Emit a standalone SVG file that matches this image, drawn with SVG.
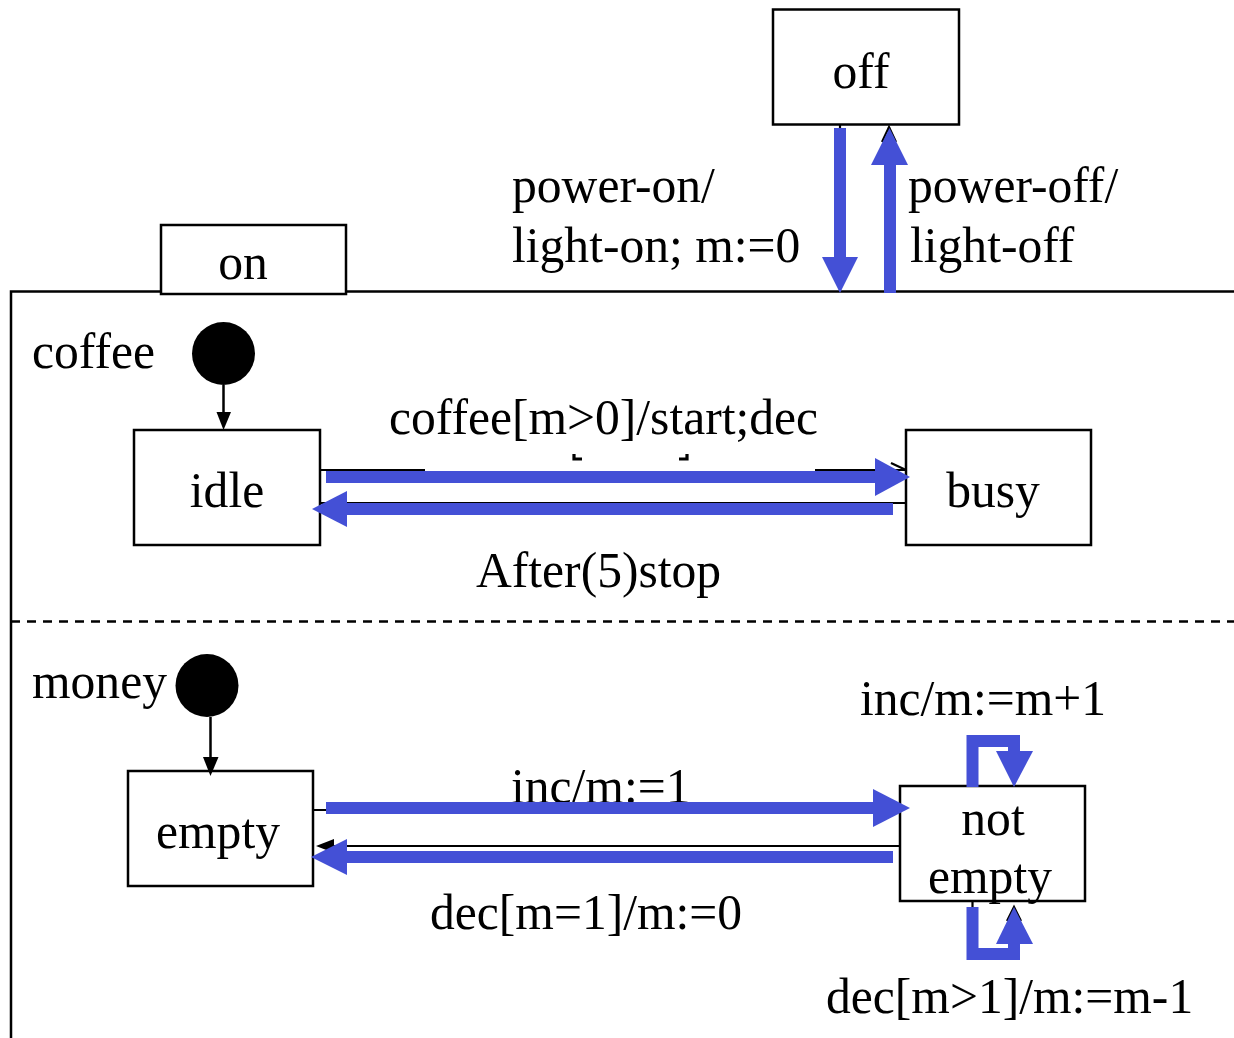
<svg xmlns="http://www.w3.org/2000/svg" width="1234" height="1038" viewBox="0 0 1234 1038">
  <style>
    .state { fill: #ffffff; stroke: #000000; stroke-width: 2.5; }
    .lbl { font-family: "Liberation Serif", "Times New Roman", serif; font-size: 49.6px; fill: #000000; }
    .mid { text-anchor: middle; }
    .thin { fill: none; stroke: #000000; stroke-width: 2.2; }
    .tick { fill: none; stroke: #000000; stroke-width: 3.2; }
    .blue { fill: #4450D6; stroke: none; }
    .blueline { fill: none; stroke: #4450D6; stroke-width: 12; stroke-linejoin: miter; }
    .region { fill: none; stroke: #000000; stroke-width: 2.5; }
  </style>
  <rect width="1234" height="1038" fill="#ffffff"/>

  <!-- composite state "on" -->
  <g id="on">
    <path class="region" d="M11,1038 V291.5 H1234"/>
    <line x1="11" y1="621.5" x2="1234" y2="621.5" stroke="#000" stroke-width="2.5" stroke-dasharray="9 7"/>
    <rect class="state" x="161" y="225" width="185" height="69"/>
    <text class="lbl mid" x="243" y="279">on</text>
    <text class="lbl" x="32" y="368">coffee</text>
    <text class="lbl" x="32" y="698">money</text>
  </g>

  <g id="off">
    <rect class="state" x="773" y="9.5" width="186" height="115"/>
    <text class="lbl mid" x="861" y="88">off</text>
  </g>

  <g id="init-coffee">
    <circle cx="223.5" cy="353.5" r="31.5" fill="#000"/>
  </g>
  <g id="init-money">
    <circle cx="207" cy="685.5" r="31.5" fill="#000"/>
  </g>

  <g id="idle">
    <rect class="state" x="134" y="430" width="186" height="115"/>
    <text class="lbl mid" x="227" y="507">idle</text>
  </g>
  <g id="busy">
    <rect class="state" x="906" y="430" width="185" height="115"/>
    <text class="lbl mid" x="993" y="507">busy</text>
  </g>
  <g id="empty">
    <rect class="state" x="128" y="771" width="185" height="115"/>
    <text class="lbl mid" x="218" y="848">empty</text>
  </g>
  <g id="not-empty">
    <rect class="state" x="900" y="786" width="185" height="115"/>
    <text class="lbl mid" x="993" y="835">not</text>
    <text class="lbl mid" x="990" y="893">empty</text>
  </g>

  <!-- transition labels -->
  <g id="labels">
    <text class="lbl" x="512" y="202">power-on/</text>
    <text class="lbl" x="512" y="262">light-on; m:=0</text>
    <text class="lbl" x="908" y="202">power-off/</text>
    <text class="lbl" x="910" y="262">light-off</text>
    <text class="lbl" x="389" y="434">coffee[m&gt;0]/start;dec</text>
    <text class="lbl" x="476" y="587">After(5)stop</text>
    <text class="lbl" x="511" y="803">inc/m:=1</text>
    <text class="lbl" x="430" y="929">dec[m=1]/m:=0</text>
    <text class="lbl" x="860" y="715">inc/m:=m+1</text>
    <text class="lbl" x="826" y="1013">dec[m&gt;1]/m:=m-1</text>
  </g>

  <g id="connectors">
    <!-- initial transitions -->
    <line x1="223.5" y1="385" x2="223.5" y2="414" stroke="#000" stroke-width="2.5"/>
    <polygon points="216.5,412 231,412 223.5,430" fill="#000"/>
    <line x1="210.5" y1="717" x2="210.5" y2="759" stroke="#000" stroke-width="2.5"/>
    <polygon points="203,757 218.5,757 210.5,776" fill="#000"/>

    <!-- thin underlying transition lines -->
    <line class="thin" x1="840" y1="125" x2="840" y2="290"/>
    <line class="thin" x1="889" y1="291" x2="889" y2="127"/>
    <path class="thin" d="M882,142 L889,127 L896,142"/>
    <path class="thin" d="M320,470 H425 M815,470 H905"/>
    <path class="thin" d="M891,463 L906,470"/>
    <path class="tick" d="M574,454 V459 H582 M679,459 H687 V454"/>
    <line class="thin" x1="906" y1="503" x2="320" y2="503"/>
    <line class="thin" x1="313" y1="810" x2="900" y2="810"/>
    <line class="thin" x1="900" y1="846" x2="330" y2="846"/>
    <polygon points="316,846 334,839 334,853" fill="#000"/>
    <path class="thin" d="M972.5,786 V736 H1014 V786"/>
    <path class="thin" d="M972.5,901 V953 H1014 V908"/>
    <path class="thin" d="M1007,921 L1014,907 L1021,921"/>

    <!-- off -> on -->
    <rect class="blue" x="834" y="128" width="12" height="130"/>
    <polygon class="blue" points="822,257 858,257 840,293"/>
    <!-- on -> off -->
    <rect class="blue" x="884" y="164" width="12" height="129"/>
    <polygon class="blue" points="871,165 908,165 889.5,128"/>

    <!-- idle -> busy -->
    <rect class="blue" x="326" y="471" width="550" height="12"/>
    <polygon class="blue" points="875,458 910,477 875,496"/>
    <!-- busy -> idle -->
    <rect class="blue" x="346" y="503" width="547" height="12"/>
    <polygon class="blue" points="347,491 312,509 347,527"/>

    <!-- empty -> not empty -->
    <rect class="blue" x="326" y="802" width="548" height="12"/>
    <polygon class="blue" points="873,789 910,808 873,827"/>
    <!-- not empty -> empty -->
    <rect class="blue" x="346" y="851" width="547" height="12"/>
    <polygon class="blue" points="347,839 311,857 347,875"/>

    <!-- self loops on not empty -->
    <path class="blueline" d="M972.5,787 V741 H1014 V752"/>
    <polygon class="blue" points="996,751 1033,751 1014,787"/>
    <path class="blueline" d="M972.5,907 V954 H1014 V943"/>
    <polygon class="blue" points="996,944 1033,944 1014,907"/>
  </g>
</svg>
